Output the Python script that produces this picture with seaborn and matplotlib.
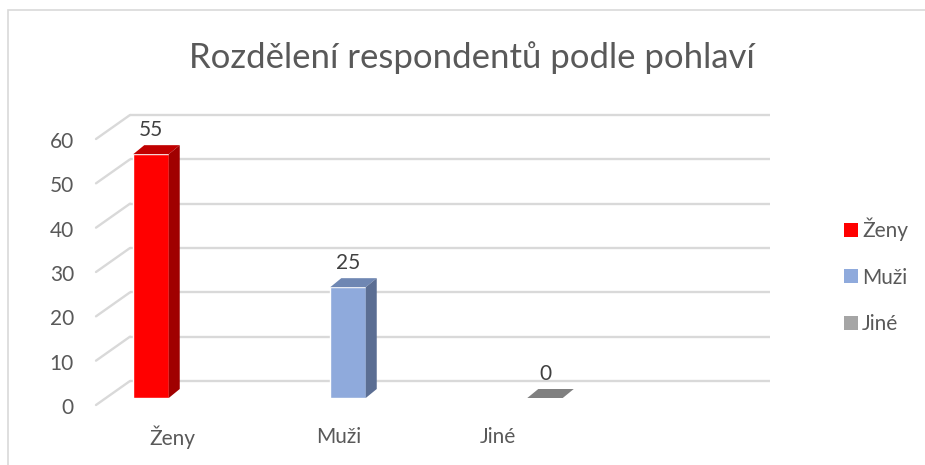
import matplotlib
matplotlib.use("Agg")
import matplotlib.pyplot as plt
import matplotlib.transforms as mtransforms
from matplotlib.patches import Polygon, Rectangle, Patch
from matplotlib.lines import Line2D
import pandas as pd
import seaborn as sns

# data
categories = ["Ženy", "Muži", "Jiné"]
values = [55, 25, 0]
y_ticks = [0, 10, 20, 30, 40, 50, 60]
title = "Rozdělení respondentů podle pohlaví"

# colours: front / top / side of each bar
front_colors = ["#FF0000", "#8FAADC", "#A5A5A5"]
top_colors = ["#C00000", "#6F87B3", "#808080"]
side_colors = ["#A00000", "#5B6E93", "#6E6E6E"]

sns.set_theme(style="white")
plt.rcParams["font.family"] = ["Lato", "DejaVu Sans"]

W, H = 925, 465
fig = plt.figure(figsize=(W / 100, H / 100), dpi=100)
ax = fig.add_axes([104 / W, 67 / H, 640 / W, 266 / H])

df = pd.DataFrame({"kategorie": categories, "pocet": values})
sns.barplot(data=df, x="kategorie", y="pocet", hue="kategorie",
            palette=front_colors, width=0.18, saturation=1,
            legend=False, ax=ax, zorder=3)

ax.set_xlim(-0.2386, 3.010)
ax.set_ylim(0, 60)
ax.set_xticks([])
ax.set_yticks([])
ax.set_xlabel("")
ax.set_ylabel("")
for s in ax.spines.values():
    s.set_visible(False)
ax.patch.set_alpha(0)


def off(dx, dy):
    return mtransforms.ScaledTranslation(dx / 100, dy / 100, fig.dpi_scale_trans)


grid_c = "#D9D9D9"
# back wall gridlines
ax.hlines(y_ticks, 0, 1, transform=ax.get_yaxis_transform() + off(26, 17),
          colors=grid_c, lw=1.7, zorder=0, clip_on=False)

# side wall (slanted) gridlines
ident = mtransforms.IdentityTransform()
for t in y_ticks:
    x0, y0 = ax.get_yaxis_transform().transform((0, t))
    fig.add_artist(Line2D([x0 - 8, x0 + 26], [y0 - 7, y0 + 17],
                          transform=ident, color=grid_c, lw=1.7, zorder=0))

# y tick labels on the front wall
for t in y_ticks:
    ax.text(0, t, str(t), transform=ax.get_yaxis_transform() + off(-30, -10),
            ha="right", va="center", fontsize=15, color="#595959")

# 3d faces of the bars
ddx, ddy = 11, 9
for p, tc, sc in zip(ax.patches, top_colors, side_colors):
    (xl, yb), (xr, yt) = ax.transData.transform(
        [(p.get_x(), p.get_y()), (p.get_x() + p.get_width(), p.get_y() + p.get_height())])
    top = [(xl, yt), (xr, yt), (xr + ddx, yt + ddy), (xl + ddx, yt + ddy)]
    fig.add_artist(Polygon(top, closed=True, transform=ident, facecolor=tc,
                           edgecolor="none", zorder=4))
    if yt - yb > 0.5:
        side = [(xr, yb), (xr, yt), (xr + ddx, yt + ddy), (xr + ddx, yb + ddy)]
        fig.add_artist(Polygon(side, closed=True, transform=ident, facecolor=sc,
                               edgecolor="none", zorder=4))

# data labels
for i, v in enumerate(values):
    ax.annotate(str(v), (i, v), xytext=(0, 24 * 0.72), textcoords="offset points",
                ha="center", va="center", fontsize=15, color="#404040",
                annotation_clip=False)

# category labels on the front floor edge
label_shift = [21, -9, -47]
for i, (c, dx) in enumerate(zip(categories, label_shift)):
    ax.text(i, 0, c, transform=ax.get_xaxis_transform() + off(dx, -39),
            ha="center", va="center", fontsize=15, color="#595959")

# title
fig.text(472 / W, 1 - 58 / H, title, ha="center", va="center",
         fontsize=25, color="#595959")

# legend
handles = [Patch(facecolor=c, edgecolor="none") for c in front_colors]
fig.legend(handles, categories, loc="center left", bbox_to_anchor=(834 / W, 1 - 276 / H),
           frameon=False, fontsize=15, labelcolor="#595959",
           handlelength=0.65, handleheight=0.65, handletextpad=0.2,
           labelspacing=1.27, borderpad=0)

# chart frame
fig.add_artist(Rectangle((7.5 / W, -0.1), 1.2, (H - 10.5) / H + 0.1,
                         transform=fig.transFigure, fill=False,
                         edgecolor=grid_c, lw=1.2))

fig.savefig("out.png", dpi=100)
